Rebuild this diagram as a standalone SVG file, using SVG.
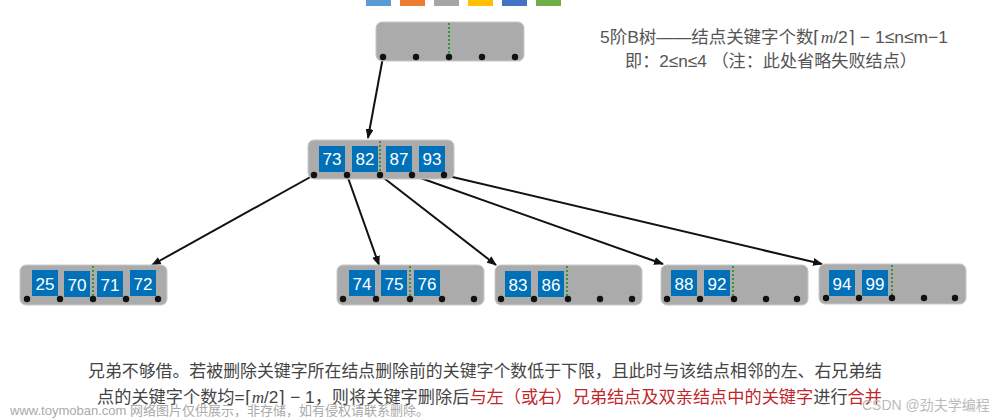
<svg xmlns="http://www.w3.org/2000/svg" width="1000" height="418" viewBox="0 0 1000 418">
<style>
.nd{fill:#ababab;stroke:#c8c8c8;stroke-width:1}
.k{fill:#0070b8}
.kt{fill:#fff;font-family:"Liberation Sans",sans-serif;font-size:17px;text-anchor:middle}
.dv{stroke:#1a8a1a;stroke-width:1.5;stroke-dasharray:2,2}
.c{stroke:#111;stroke-width:2;fill:none;marker-end:url(#ah)}
.t{font-family:"Liberation Sans","Noto Sans CJK SC",sans-serif;fill:#555;font-size:17px}
.b{font-family:"Liberation Sans","Noto Sans CJK SC",sans-serif;fill:#444;font-size:17px}
.r{fill:#c0272d}
.m{font-family:"Liberation Serif",serif;font-style:italic}
</style>
<defs>
<marker id="ah" markerWidth="10" markerHeight="8" refX="9" refY="4" orient="auto" markerUnits="userSpaceOnUse"><path d="M0,0 L10,4 L0,8 Z" fill="#111"/></marker>
<circle id="d" r="3.2" fill="#111"/>
</defs>
<g id="bars">
<rect x="366" y="0" width="25" height="6" fill="#5b9bd5"/>
<rect x="400" y="0" width="25" height="6" fill="#ed7d31"/>
<rect x="434" y="0" width="25" height="6" fill="#a5a5a5"/>
<rect x="468" y="0" width="25" height="6" fill="#ffc000"/>
<rect x="502" y="0" width="25" height="6" fill="#4472c4"/>
<rect x="536" y="0" width="25" height="6" fill="#70ad47"/>
</g>
<g id="connectors">
<line class="c" x1="383" y1="57" x2="368" y2="138"/>
<line class="c" x1="314" y1="175" x2="152" y2="265"/>
<line class="c" x1="347" y1="175" x2="379" y2="265"/>
<line class="c" x1="380" y1="175" x2="496" y2="265"/>
<line class="c" x1="412" y1="175" x2="663" y2="264"/>
<line class="c" x1="444" y1="175" x2="822" y2="264"/>
</g>
<g id="root">
<rect class="nd" x="376" y="22" width="148" height="39" rx="6"/>
<line class="dv" x1="449" y1="23" x2="449" y2="57"/>
<use href="#d" x="383" y="57"/><use href="#d" x="416" y="57"/><use href="#d" x="449" y="57"/><use href="#d" x="482" y="57"/><use href="#d" x="515" y="57"/>
</g>
<g id="mid">
<rect class="nd" x="308" y="140" width="146" height="39" rx="6"/>
<rect class="k" x="319" y="146" width="26" height="26"/><text class="kt" x="332" y="165">73</text>
<rect class="k" x="352" y="146" width="26" height="26"/><text class="kt" x="365" y="165">82</text>
<rect class="k" x="386" y="146" width="26" height="26"/><text class="kt" x="399" y="165">87</text>
<rect class="k" x="419" y="146" width="26" height="26"/><text class="kt" x="432" y="165">93</text>
<line class="dv" x1="380" y1="141" x2="380" y2="175"/>
<use href="#d" x="314" y="175"/><use href="#d" x="347" y="175"/><use href="#d" x="380" y="175"/><use href="#d" x="412" y="175"/><use href="#d" x="444" y="175"/>
</g>
<g id="leaf1">
<rect class="nd" x="20" y="265" width="147" height="40" rx="6"/>
<rect class="k" x="32" y="270" width="26" height="26"/><text class="kt" x="45" y="290">25</text>
<rect class="k" x="64" y="271" width="26" height="26"/><text class="kt" x="77" y="291">70</text>
<rect class="k" x="97" y="271" width="26" height="26"/><text class="kt" x="110" y="291">71</text>
<rect class="k" x="130" y="270" width="26" height="26"/><text class="kt" x="143" y="290">72</text>
<line class="dv" x1="93" y1="266" x2="93" y2="298"/>
<use href="#d" x="27" y="299"/><use href="#d" x="60" y="299"/><use href="#d" x="93" y="299"/><use href="#d" x="126" y="299"/><use href="#d" x="158" y="299"/>
</g>
<g id="leaf2">
<rect class="nd" x="337" y="265" width="147" height="40" rx="6"/>
<rect class="k" x="349" y="270" width="26" height="26"/><text class="kt" x="362" y="290">74</text>
<rect class="k" x="381" y="270" width="26" height="26"/><text class="kt" x="394" y="290">75</text>
<rect class="k" x="414" y="270" width="26" height="26"/><text class="kt" x="427" y="290">76</text>
<line class="dv" x1="410" y1="266" x2="410" y2="298"/>
<use href="#d" x="343" y="299"/><use href="#d" x="376" y="299"/><use href="#d" x="410" y="299"/><use href="#d" x="442" y="299"/><use href="#d" x="474" y="299"/>
</g>
<g id="leaf3">
<rect class="nd" x="495" y="265" width="147" height="40" rx="6"/>
<rect class="k" x="505" y="271" width="26" height="26"/><text class="kt" x="518" y="291">83</text>
<rect class="k" x="538" y="271" width="26" height="26"/><text class="kt" x="551" y="291">86</text>
<line class="dv" x1="567" y1="266" x2="567" y2="298"/>
<use href="#d" x="501" y="299"/><use href="#d" x="534" y="299"/><use href="#d" x="568" y="299"/><use href="#d" x="600" y="299"/><use href="#d" x="632" y="299"/>
</g>
<g id="leaf4">
<rect class="nd" x="661" y="265" width="147" height="40" rx="6"/>
<rect class="k" x="671" y="270" width="26" height="26"/><text class="kt" x="684" y="290">88</text>
<rect class="k" x="704" y="270" width="26" height="26"/><text class="kt" x="717" y="290">92</text>
<line class="dv" x1="733" y1="266" x2="733" y2="298"/>
<use href="#d" x="667" y="299"/><use href="#d" x="700" y="299"/><use href="#d" x="734" y="299"/><use href="#d" x="766" y="299"/><use href="#d" x="797" y="299"/>
</g>
<g id="leaf5">
<rect class="nd" x="819" y="264" width="147" height="40" rx="6"/>
<rect class="k" x="829" y="270" width="26" height="26"/><text class="kt" x="842" y="290">94</text>
<rect class="k" x="862" y="270" width="26" height="26"/><text class="kt" x="875" y="290">99</text>
<line class="dv" x1="892" y1="265" x2="892" y2="298"/>
<use href="#d" x="826" y="298"/><use href="#d" x="859" y="298"/><use href="#d" x="892" y="298"/><use href="#d" x="924" y="298"/><use href="#d" x="955" y="298"/>
</g>
<g id="note">
<text class="t" x="600" y="43" textLength="348" lengthAdjust="spacingAndGlyphs">5阶B树——结点关键字个数⌈<tspan class="m">m</tspan>/2⌉ − 1≤n≤m−1</text>
<text class="t" x="625" y="67" textLength="292" lengthAdjust="spacingAndGlyphs">即：2≤n≤4 （注：此处省略失败结点）</text>
</g>
<g id="caption">
<text class="b" x="88" y="377" textLength="794" lengthAdjust="spacingAndGlyphs">兄弟不够借。若被删除关键字所在结点删除前的关键字个数低于下限，且此时与该结点相邻的左、右兄弟结</text>
<text class="b" x="97" y="403" textLength="785" lengthAdjust="spacingAndGlyphs">点的关键字个数均=⌈<tspan class="m">m</tspan>/2⌉ − 1，则将关键字删除后<tspan class="r">与左（或右）兄弟结点及双亲结点中的关键字</tspan>进行<tspan class="r">合并</tspan></text>
</g>
<g id="watermarks">
<text x="10" y="415" font-family="'Liberation Sans','Noto Sans CJK SC',sans-serif" font-size="13" fill="#aaa">www.toymoban.com 网络图片仅供展示，非存储，如有侵权请联系删除。</text>
<text x="862" y="410" font-family="'Liberation Sans','Noto Sans CJK SC',sans-serif" font-size="14" fill="#bbb">CSDN @劲夫学编程</text>
</g>
</svg>
